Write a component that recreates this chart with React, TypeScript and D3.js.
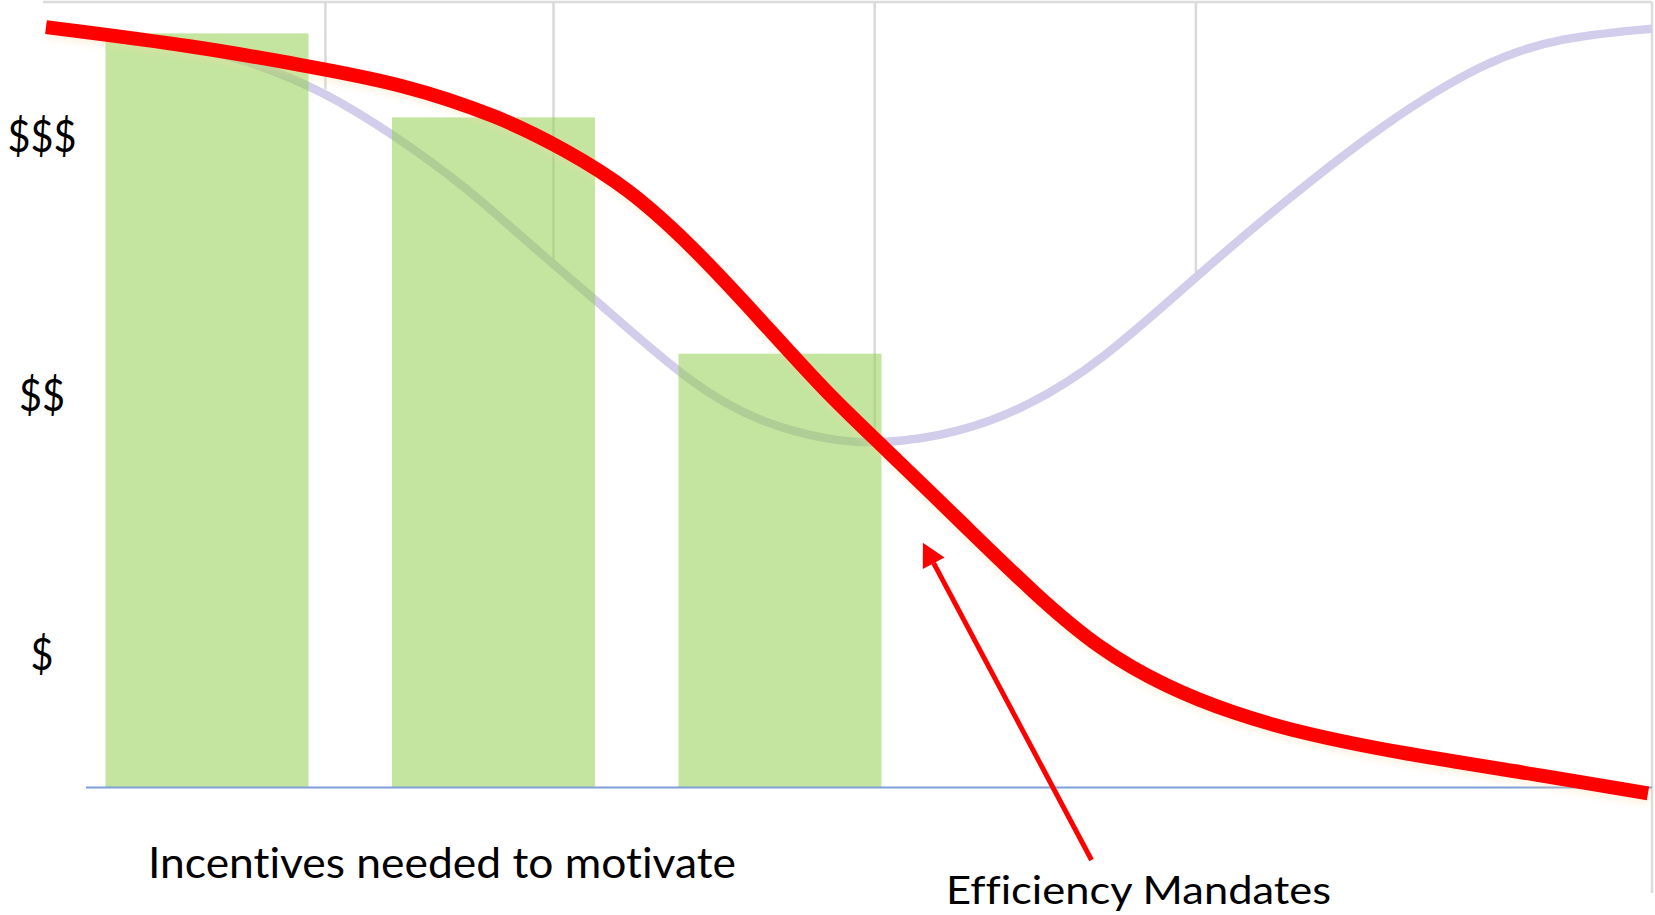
import React from 'react';
import * as d3 from 'd3';

const W = 1655;
const H = 915;

// ---- data ----
const barCategories = ['Tier 1', 'Tier 2', 'Tier 3'];
const barValues = [96.0, 85.3, 55.2];

const mandateX = [0, 9.6, 15.8, 22.0, 28.3, 32.4, 36.2, 40.3, 44.5, 48.6, 51.7, 57.3, 61.5, 65.6, 69.8, 73.9, 78.1, 84.3, 93.7, 99.75];
const mandateY = [96.8, 94.3, 92.0, 89.7, 85.4, 81.1, 76.4, 68.8, 59.5, 50.2, 44.2, 33.1, 24.7, 17.5, 12.7, 9.4, 6.9, 4.3, 1.3, -0.8];

const adoptionX = [0, 7.1, 12.7, 17.4, 21.5, 26.2, 30.3, 34.1, 40.3, 44.5, 48.6, 51.9, 56.9, 61.1, 65.6, 71.6, 76.7, 83.3, 89.7, 94.3, 100];
const adoptionY = [96.9, 95.2, 92.6, 88.5, 83.3, 76.4, 68.8, 62.3, 51.0, 46.4, 44.2, 43.6, 45.1, 48.4, 54.0, 65.0, 73.9, 84.6, 92.6, 95.5, 96.6];

const dropX = [17.4, 31.6, 51.6, 71.6];
const dropY = [88.9, 67.1, 44.3, 65.5];

const yTickLabels = ['$', '$$', '$$$'];
const yTickValues = [17, 50, 83];

const arrowFrom = [65.1, -9.3];
const arrowTo = [54.6, 31.1];

const xLabel = 'Incentives needed to motivate';
const arrowLabel = 'Efficiency Mandates';

export default function App() {
  const x = d3.scaleLinear().domain([0, 100]).range([46, 1652]);
  const y = d3.scaleLinear().domain([0, 100]).range([787, 2]);
  const band = d3
    .scaleBand<string>()
    .domain(barCategories)
    .range([63.75, 923.25])
    .paddingInner(0.2914)
    .paddingOuter(0.1457);

  const line = d3
    .line<[number, number]>()
    .x((d) => x(d[0]))
    .y((d) => y(d[1]))
    .curve(d3.curveBasis);

  const mandatePts = mandateX.map((v, i) => [v, mandateY[i]] as [number, number]);
  const adoptionPts = adoptionX.map((v, i) => [v, adoptionY[i]] as [number, number]);

  const ax1 = x(arrowFrom[0]);
  const ay1 = y(arrowFrom[1]);
  const ax2 = x(arrowTo[0]);
  const ay2 = y(arrowTo[1]);
  const len = Math.hypot(ax1 - ax2, ay1 - ay2);
  const ux = (ax1 - ax2) / len;
  const uy = (ay1 - ay2) / len;
  const headL = 23;
  const headW = 12.3;
  const bx = ax2 + ux * headL;
  const by = ay2 + uy * headL;
  const px = -uy;
  const py = ux;
  const head = `M${ax2},${ay2}L${bx + px * headW},${by + py * headW}L${bx - px * headW},${by - py * headW}Z`;

  const font = 'Lato, "Open Sans", sans-serif';
  const textStyle = { fontVariantLigatures: 'none' as const };

  return (
    <svg
      width={W}
      height={H}
      style={{ position: 'absolute', left: 0, top: 0, display: 'block', background: '#fff' }}
    >
      <defs>
        <filter id="glow" x="-10%" y="-10%" width="120%" height="130%">
          <feGaussianBlur stdDeviation="3" />
        </filter>
      </defs>
      <rect x={0} y={0} width={W} height={H} fill="#fff" />

      {/* frame / gridlines */}
      <line x1={43} x2={x(100)} y1={y(100)} y2={y(100)} stroke="#DCDCDC" strokeWidth={2.5} />
      <line x1={x(100)} x2={x(100)} y1={y(100)} y2={893} stroke="#DCDCDC" strokeWidth={2.5} />
      {dropX.map((v, i) => (
        <line key={i} x1={x(v)} x2={x(v)} y1={y(100)} y2={y(dropY[i])} stroke="#D9D9D9" strokeWidth={2.5} />
      ))}

      {/* adoption curve (lavender) */}
      <path d={line(adoptionPts) || ''} fill="none" stroke="#D1CDEA" strokeWidth={8.5} />

      {/* bars */}
      {barValues.map((v, i) => (
        <rect
          key={i}
          x={band(barCategories[i])}
          y={y(v)}
          width={band.bandwidth()}
          height={y(0) - y(v)}
          fill="#92D050"
          fillOpacity={0.55}
        />
      ))}

      {/* axis */}
      <line x1={86} x2={x(100)} y1={y(0) + 0.5} y2={y(0) + 0.5} stroke="#7FA0D8" strokeWidth={2} />

      {/* mandate curve (red) with soft glow */}
      <path
        d={line(mandatePts) || ''}
        fill="none"
        stroke="#F7D9A6"
        strokeOpacity={0.3}
        strokeWidth={16}
        transform="translate(1,4)"
        filter="url(#glow)"
      />
      <path d={line(mandatePts) || ''} fill="none" stroke="#FF0000" strokeWidth={14} strokeLinecap="butt" />

      {/* arrow */}
      <line x1={ax1} y1={ay1} x2={bx} y2={by} stroke="#FF0000" strokeWidth={5} />
      <path d={head} fill="#FF0000" />

      {/* y labels */}
      {yTickValues.map((v, i) => (
        <text
          key={i}
          x={42}
          y={y(v) + 16.5}
          textAnchor="middle"
          fontFamily={font}
          fontSize={44}
          fill="#000"
          textLength={yTickLabels[i].length * 23}
          lengthAdjust="spacingAndGlyphs"
        >
          {yTickLabels[i]}
        </text>
      ))}

      <text
        x={148}
        y={878}
        fontFamily={font}
        fontSize={42}
        fill="#000"
        style={textStyle}
        textLength={588}
        lengthAdjust="spacingAndGlyphs"
      >
        {xLabel}
      </text>
      <text
        x={946}
        y={904}
        fontFamily={font}
        fontSize={39}
        fill="#000"
        style={textStyle}
        textLength={385}
        lengthAdjust="spacingAndGlyphs"
      >
        {arrowLabel}
      </text>
    </svg>
  );
}
